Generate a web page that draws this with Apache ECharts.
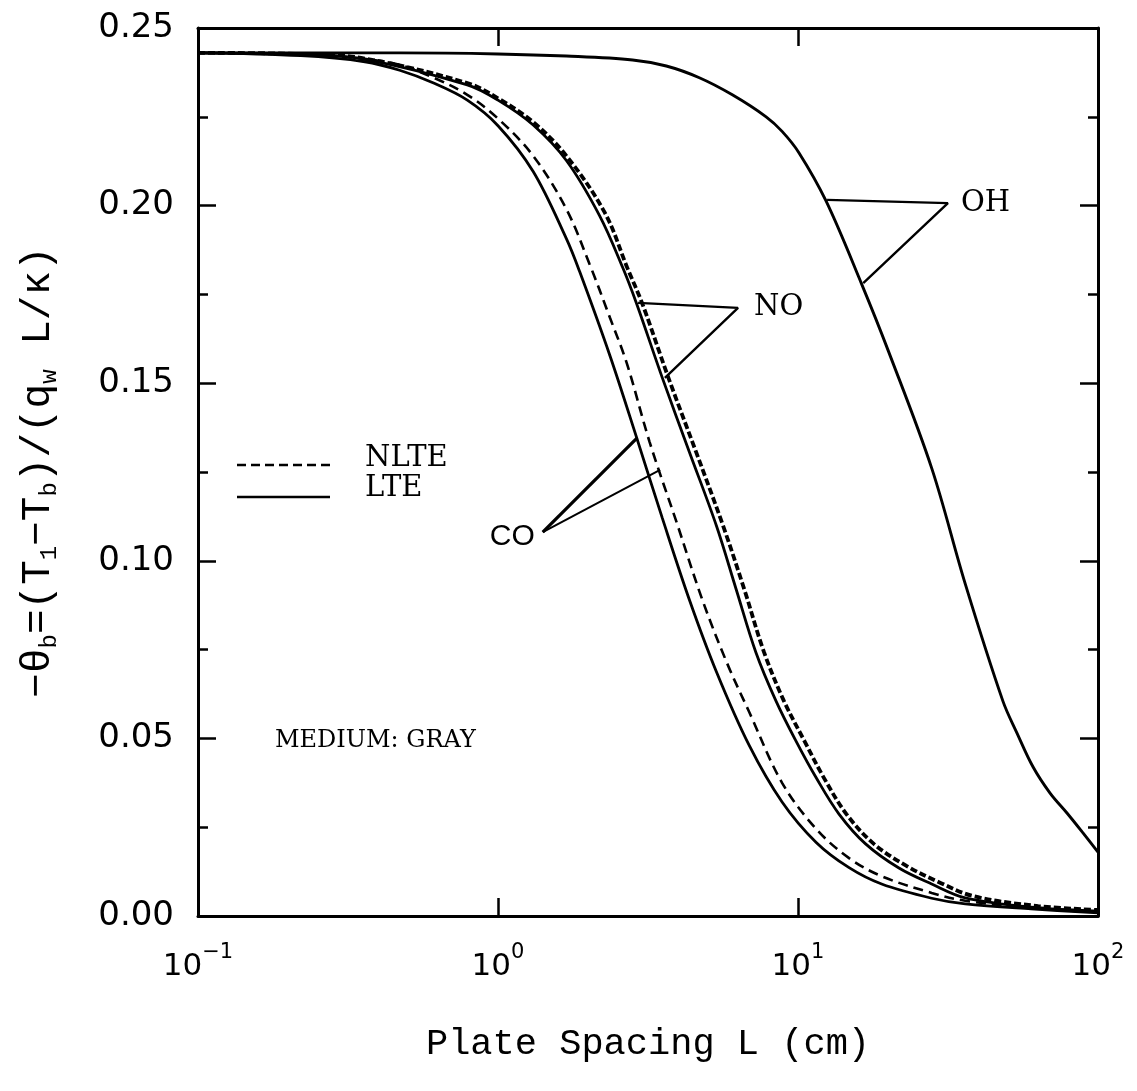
<!DOCTYPE html>
<html><head><meta charset="utf-8">
<script src="https://cdn.jsdelivr.net/npm/echarts@6/dist/echarts.min.js"></script>
<style>html,body{margin:0;padding:0;background:#fff}#c{width:1137px;height:1091px}</style>
</head><body><div id="c"></div>
<script>
// ---- data (L in cm, value = -theta_b) ----
const coLteL  = [0.1, 0.22, 0.36, 0.47, 0.61, 0.79, 1.0, 1.31, 1.69, 1.87, 2.36, 2.90, 3.53, 4.35, 5.35, 6.87, 8.85, 11.5, 14.8, 19.0, 27.9, 36.1, 59.8, 100];
const coLteV  = [0.243, 0.2422, 0.2405, 0.2381, 0.2345, 0.2297, 0.2225, 0.2096, 0.1907, 0.1815, 0.1578, 0.1346, 0.1120, 0.0889, 0.0687, 0.0481, 0.0321, 0.0207, 0.0136, 0.0090, 0.0050, 0.0034, 0.0020, 0.0009];
const coNlteL = [0.1, 0.22, 0.36, 0.47, 0.61, 0.79, 1.0, 1.31, 1.69, 2.02, 2.36, 2.69, 3.20, 3.94, 4.80, 5.80, 6.87, 8.85, 11.5, 14.8, 19.0, 27.9, 36.1, 59.8, 100];
const coNlteV = [0.243, 0.2425, 0.2413, 0.2396, 0.2360, 0.2312, 0.2245, 0.2140, 0.1990, 0.1835, 0.1685, 0.1555, 0.1335, 0.1108, 0.0890, 0.0712, 0.0575, 0.0375, 0.0245, 0.0163, 0.0112, 0.0065, 0.0043, 0.0023, 0.0011];
const noLteL  = [0.1, 0.22, 0.36, 0.79, 1.0, 1.31, 1.69, 2.18, 2.60, 2.90, 3.53, 4.35, 5.35, 6.22, 7.24, 8.45, 9.84, 11.5, 13.7, 16.8, 21.7, 27.9, 36.1, 59.8, 100];
const noLteV  = [0.243, 0.2427, 0.2412, 0.2340, 0.2297, 0.2227, 0.2127, 0.1972, 0.1827, 0.1723, 0.1515, 0.1305, 0.1098, 0.0920, 0.0742, 0.0605, 0.0493, 0.0389, 0.0287, 0.0203, 0.0135, 0.0090, 0.0051, 0.0025, 0.0014];
const noNlteL = [0.1, 0.22, 0.36, 0.79, 1.0, 1.31, 1.69, 2.27, 2.70, 3.03, 3.70, 4.58, 5.63, 6.62, 7.71, 8.98, 10.5, 12.2, 14.5, 17.9, 23.0, 29.4, 38.4, 63.2, 100];
const noNlteV = [0.243, 0.2427, 0.2414, 0.2345, 0.2302, 0.2235, 0.2140, 0.1980, 0.1824, 0.1723, 0.1515, 0.1305, 0.1098, 0.0920, 0.0742, 0.0605, 0.0493, 0.0389, 0.0287, 0.0203, 0.0141, 0.0096, 0.0056, 0.0028, 0.0017];
const ohL     = [0.1, 0.47, 1.0, 1.69, 2.81, 3.64, 4.69, 6.04, 7.83, 8.85, 10.07, 12.4, 16.3, 20.0, 27.9, 36.1, 48.2, 53.7, 60.7, 69.2, 78.8, 89.1, 100];
const ohV     = [0.243, 0.2430, 0.2427, 0.2421, 0.2410, 0.2393, 0.2360, 0.2312, 0.2250, 0.2209, 0.2149, 0.2013, 0.1779, 0.1591, 0.1261, 0.0935, 0.0605, 0.0515, 0.0420, 0.0346, 0.0290, 0.0234, 0.0180];

// annotation leaders (data coordinates)
const ohLeader  = [[12.5, 0.2016], [31.6, 0.2007], [16.5, 0.1782]];
const noLeader  = [[2.93, 0.1726], [6.31, 0.1712], [3.60, 0.1515]];
const coLeaderA = [[2.91, 0.1346], [1.41, 0.1081]];
const coLeaderB = [[1.41, 0.1081], [3.47, 0.1256]];
const speciesNames = ['OH', 'NO', 'CO'];
const speciesAnchors = [[31.6, 0.2007], [6.31, 0.1712], [1.41, 0.1081]];

const yTicks = [0, 0.05, 0.10, 0.15, 0.20, 0.25];
const xDecades = [0.1, 1, 10, 100];

const zip = (a, b) => a.map((x, i) => [x, b[i]]);

const chart = echarts.init(document.getElementById('c'), null, {renderer: 'canvas'});
const black = '#000';
const curve = (data, width, dash) => ({
  type: 'line', data, showSymbol: false, symbol: 'none', smooth: 0.35,
  lineStyle: {color: black, width, type: dash || 'solid', opacity: 1}, silent: true, z: 3
});
const leader = (data, width) => ({
  type: 'line', data, showSymbol: false, symbol: 'none', silent: true,
  lineStyle: {color: black, width, opacity: 1}, z: 4
});

const axisCommon = {
  axisLine: {show: true, onZero: false, lineStyle: {color: black, width: 3}},
  splitLine: {show: false}
};

const supMap = {'-1': '−1', '0': '0', '1': '1', '2': '2'};

chart.setOption({
  animation: false,
  backgroundColor: '#fff',
  grid: {left: 198, right: 39, top: 28, bottom: 175, containLabel: false},
  xAxis: [
    Object.assign({
      type: 'log', logBase: 10, min: xDecades[0], max: xDecades[xDecades.length - 1], position: 'bottom',
      axisTick: {show: true, inside: true, length: 18, lineStyle: {color: black, width: 2.5}},
      axisLabel: {
        margin: 26, color: black,
        formatter: v => { const e = Math.round(Math.log10(v)); return '{b|10}{s|' + supMap[String(e)] + '}'; },
        rich: {
          b: {fontFamily: 'DejaVu Sans', fontSize: 31, lineHeight: 40, verticalAlign: 'bottom', color: black},
          s: {fontFamily: 'DejaVu Sans', fontSize: 21, lineHeight: 14, verticalAlign: 'top', color: black}
        }
      },
      name: 'Plate Spacing L (cm)', nameLocation: 'middle', nameGap: 110,
      nameTextStyle: {fontFamily: 'Liberation Mono', fontSize: 37, color: black}
    }, axisCommon),
    Object.assign({
      type: 'log', logBase: 10, min: xDecades[0], max: xDecades[xDecades.length - 1], position: 'top',
      axisTick: {show: true, inside: true, length: 18, lineStyle: {color: black, width: 2.5}},
      axisLabel: {show: false}
    }, axisCommon)
  ],
  yAxis: [
    Object.assign({
      type: 'value', min: yTicks[0], max: yTicks[yTicks.length - 1], interval: 0.05, position: 'left',
      axisTick: {show: true, inside: true, length: 18, lineStyle: {color: black, width: 2.5}},
      minorTick: {show: true, splitNumber: 2, length: 10, lineStyle: {color: black, width: 2.5}},
      axisLabel: {margin: 24, color: black, fontFamily: 'DejaVu Sans', fontSize: 34, formatter: v => v.toFixed(2)},
      name: '−θ{sub|b}=(T{sub|1}−T{sub|b})/(q{sub|w} L/κ)',
      nameLocation: 'middle', nameGap: 136, nameRotate: 90,
      nameTextStyle: {
        fontFamily: 'Liberation Mono', fontSize: 41, lineHeight: 48, color: black,
        rich: {sub: {fontFamily: 'Liberation Mono', fontSize: 24, lineHeight: 18, verticalAlign: 'bottom', color: black}}
      }
    }, axisCommon),
    Object.assign({
      type: 'value', min: yTicks[0], max: yTicks[yTicks.length - 1], interval: 0.05, position: 'right',
      axisTick: {show: true, inside: true, length: 18, lineStyle: {color: black, width: 2.5}},
      minorTick: {show: true, splitNumber: 2, length: 10, lineStyle: {color: black, width: 2.5}},
      axisLabel: {show: false}
    }, axisCommon)
  ],
  series: [
    curve(zip(coLteL, coLteV), 2.8),
    curve(zip(coNlteL, coNlteV), 2.6, [10, 6]),
    curve(zip(noLteL, noLteV), 2.8),
    curve(zip(noNlteL, noNlteV), 3.8, [7, 3]),
    curve(zip(ohL, ohV), 2.9),
    leader(ohLeader, 2.4),
    leader(noLeader, 2.4),
    leader(coLeaderA, 3.2),
    leader(coLeaderB, 2),
    {
      type: 'scatter', symbolSize: 0, silent: true, z: 5,
      itemStyle: {opacity: 1},
      data: speciesAnchors.map((p, i) => ({
        value: p, name: speciesNames[i],
        label: i === 2
          ? {show: true, position: 'left', distance: 8, offset: [0, 5], formatter: '{b}', color: black, opacity: 1,
             fontFamily: 'Liberation Sans', fontSize: 30}
          : {show: true, position: 'right', distance: i === 0 ? 13 : 16, formatter: '{b}', color: black, opacity: 1,
             fontFamily: 'DejaVu Serif', fontSize: 29}
      }))
    }
  ],
  graphic: [
    {type: 'line', shape: {x1: 237, y1: 465, x2: 330, y2: 465}, style: {stroke: black, lineWidth: 2.6, lineDash: [9, 5]}},
    {type: 'line', shape: {x1: 237, y1: 497, x2: 330, y2: 497}, style: {stroke: black, lineWidth: 2.6}},
    {type: 'text', x: 365, y: 458, style: {text: 'NLTE', fill: black, font: '29px "DejaVu Serif"', textVerticalAlign: 'middle'}},
    {type: 'text', x: 365, y: 488, style: {text: 'LTE', fill: black, font: '29px "DejaVu Serif"', textVerticalAlign: 'middle'}},
    {type: 'text', x: 275, y: 741, style: {text: 'MEDIUM: GRAY', fill: black, font: '24px "DejaVu Serif"', textVerticalAlign: 'middle'}}
  ]
});
</script>
</body></html>
